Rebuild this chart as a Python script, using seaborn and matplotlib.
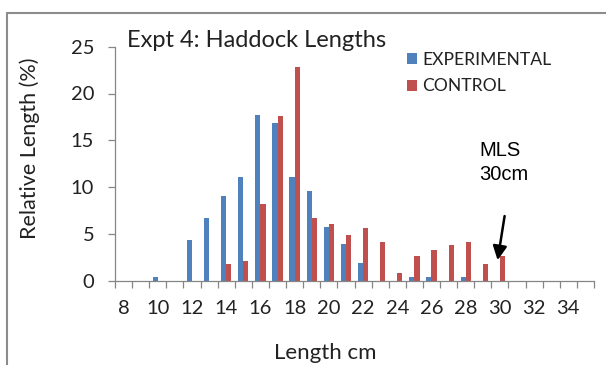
import matplotlib
matplotlib.use("Agg")
import matplotlib.pyplot as plt
from matplotlib.lines import Line2D
import pandas as pd
import seaborn as sns

# Length classes (cm) and relative frequency (%) for each gear
lengths = list(range(8, 36))
experimental = [0, 0, 0.4, 0, 4.3, 6.7, 9.1, 11.1, 17.7, 16.9, 11.1, 9.6, 5.7, 3.9,
                1.9, 0, 0, 0.4, 0.4, 0, 0.4, 0, 0, 0, 0, 0, 0, 0]
control = [0, 0, 0, 0, 0, 0, 1.8, 2.1, 8.2, 17.6, 22.8, 6.7, 6.1, 4.9,
           5.6, 4.1, 0.8, 2.6, 3.3, 3.8, 4.1, 1.8, 2.6, 0, 0, 0, 0, 0]
series_names = ["EXPERIMENTAL", "CONTROL"]
series_colors = ["#4F81BD", "#C0504D"]
tick_labels = [str(v) for v in range(8, 36, 2)]

df = pd.DataFrame({
    "length": [str(v) for v in lengths] * 2,
    "pct": experimental + control,
    "gear": [series_names[0]] * len(lengths) + [series_names[1]] * len(lengths),
})

sns.set_theme(style="white")
plt.rcParams["font.family"] = ["Lato", "DejaVu Sans"]

W, H = 606, 365
fig = plt.figure(figsize=(W / 100, H / 100), dpi=100)
ax = fig.add_axes([115 / W, 1 - 280.7 / H, (594 - 115) / W, (280.7 - 46.7) / H])

sns.barplot(data=df, x="length", y="pct", hue="gear",
            order=[str(v) for v in lengths], hue_order=series_names,
            palette=series_colors, width=0.6, linewidth=0, saturation=1,
            ax=ax)

grey = "#868686"
ax.set_xlim(-0.5, len(lengths) - 0.5)
ax.set_ylim(0, 25)
ax.set_yticks([0, 5, 10, 15, 20, 25])
ax.set_xticks(range(0, len(lengths), 2))
ax.set_xticklabels(tick_labels)
ax.set_xticks([i - 0.5 for i in range(len(lengths) + 1)], minor=True)
ax.tick_params(axis="x", which="major", length=0, pad=14, labelsize=14.5,
               labelcolor="#222222")
ax.tick_params(axis="x", which="minor", length=5, width=0.9, color=grey,
               direction="out", bottom=True)
ax.tick_params(axis="y", length=5, width=0.9, color=grey, direction="out",
               left=True, pad=10, labelsize=14.5, labelcolor="#222222")
for side in ("top", "right"):
    ax.spines[side].set_visible(False)
for side in ("left", "bottom"):
    ax.spines[side].set_color(grey)
    ax.spines[side].set_linewidth(0.9)
ax.set_xlabel("")
ax.set_ylabel("")

# Legend in the upper right of the plot
handles, labels = ax.get_legend_handles_labels()
ax.legend(handles, labels, loc="upper left",
          bbox_to_anchor=(398 / W, 1 - 43 / H), bbox_transform=fig.transFigure,
          frameon=False, fontsize=12.6, handlelength=0.6, handleheight=0.6,
          handletextpad=0.3, labelspacing=0.6, borderpad=0,
          labelcolor="#222222")

# Titles
fig.text(127 / W, 1 - 47.3 / H, "Expt 4: Haddock Lengths", fontsize=17,
         ha="left", va="baseline", color="#222222")
fig.text(30 / W, 1 - 148 / H, "Relative Length (%)", fontsize=15.5,
         rotation=90, ha="center", va="center", color="#222222")
fig.text(325 / W, 1 - 359 / H, "Length cm", fontsize=16,
         ha="center", va="baseline", color="#222222")

# Minimum landing size marker
fig.text(479 / W, 1 - 141 / H, "MLS\n30cm", fontsize=14.5,
         family=["Liberation Sans", "DejaVu Sans"], ha="left", va="top",
         linespacing=1.3, color="black")
ax.annotate("", xy=(21.84, 1.9), xytext=(22.3, 7.2),
            arrowprops=dict(arrowstyle="-|>,head_length=0.7,head_width=0.35",
                            color="black", lw=1.8))

# Outer frame edges
fig.add_artist(Line2D([6.5 / W, 1.0], [1 - 12.7 / H] * 2,
                      transform=fig.transFigure, color="#8c8c8c", lw=1.5))
fig.add_artist(Line2D([6.5 / W] * 2, [0.0, 1 - 12.7 / H],
                      transform=fig.transFigure, color="#8c8c8c", lw=1.5))

fig.savefig("out.png", dpi=100)
